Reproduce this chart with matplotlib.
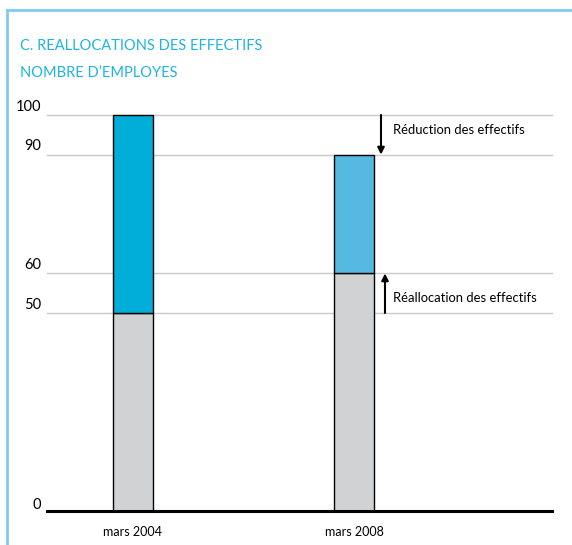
import matplotlib
matplotlib.use("Agg")
import matplotlib.pyplot as plt
from matplotlib.lines import Line2D

categories = ["mars 2004", "mars 2008"]
base_values = [50, 60]
top_values = [50, 30]
yticks = [0, 50, 60, 90, 100]
title1 = "C. REALLOCATIONS DES EFFECTIFS"
title2 = "NOMBRE D\u2019EMPLOYES"
ann_reduction = "R\u00e9duction des effectifs"
ann_realloc = "R\u00e9allocation des effectifs"

W, H = 572, 545
fig = plt.figure(figsize=(W/100, H/100), dpi=100)
plt.rcParams['font.family'] = ['Lato', 'DejaVu Sans']

def fx(px): return px / W
def fy(py): return 1 - py / H

ax = fig.add_axes([fx(47), fy(511), fx(552) - fx(47), fy(115) - fy(511)])
ax.set_xlim(0, 1)
ax.set_ylim(0, 100)

positions = [0.170, 0.608]
width = 0.078
top_colors = ["#00AED9", "#55B9E1"]
gray = "#D1D2D4"

for t in yticks[1:]:
    ax.axhline(t, color="#C9C9C9", lw=1.0, zorder=0, clip_on=False)

ax.bar(positions, base_values, width=width, color=gray, edgecolor="black", lw=1.0, zorder=2)
ax.bar(positions, top_values, bottom=base_values, width=width, color=top_colors,
       edgecolor="black", lw=1.0, zorder=2, clip_on=False)

for s in ["top", "right", "left"]:
    ax.spines[s].set_visible(False)
ax.spines["bottom"].set_linewidth(2.2)
ax.spines["bottom"].set_color("black")
ax.set_yticks([])
ax.set_xticks(positions)
ax.set_xticklabels(categories, fontsize=9)
ax.tick_params(axis="x", length=0, pad=11)

for t in yticks:
    ax.annotate(str(t), xy=(0, t), xycoords=("axes fraction", "data"),
                xytext=(-4, 6 if t else 4), textcoords="offset points",
                ha="right", va="center", fontsize=10.5, color="black")

# arrows
xa1 = (381 - 47) / 505
xa2 = (385 - 47) / 505
ax.annotate("", xy=(xa1, yticks[3]), xytext=(xa1, yticks[4]),
            arrowprops=dict(arrowstyle="-|>", color="black", lw=1.5, mutation_scale=10,
                            shrinkA=0, shrinkB=0), annotation_clip=False)
ax.annotate("", xy=(xa2, yticks[2]), xytext=(xa2, yticks[1]),
            arrowprops=dict(arrowstyle="-|>", color="black", lw=1.5, mutation_scale=10,
                            shrinkA=0, shrinkB=0), annotation_clip=False)
xt = (393 - 47) / 505
ax.text(xt, 96.3, ann_reduction, fontsize=9.4, va="center", ha="left")
ax.text(xt, 53.8, ann_realloc, fontsize=9.4, va="center", ha="left")

# frame
frame_color = "#7FCCEB"
fig.add_artist(Line2D([fx(7), fx(7)], [fy(10), 0], color=frame_color, lw=2, transform=fig.transFigure))
fig.add_artist(Line2D([fx(7), 1], [fy(10), fy(10)], color=frame_color, lw=2, transform=fig.transFigure))

title_color = "#1FB3E1"
fig.text(fx(20), fy(46), title1, fontsize=10.5, color=title_color, va="center", ha="left")
fig.text(fx(20), fy(73), title2, fontsize=10.5, color=title_color, va="center", ha="left")

fig.savefig("out.png", dpi=100)
